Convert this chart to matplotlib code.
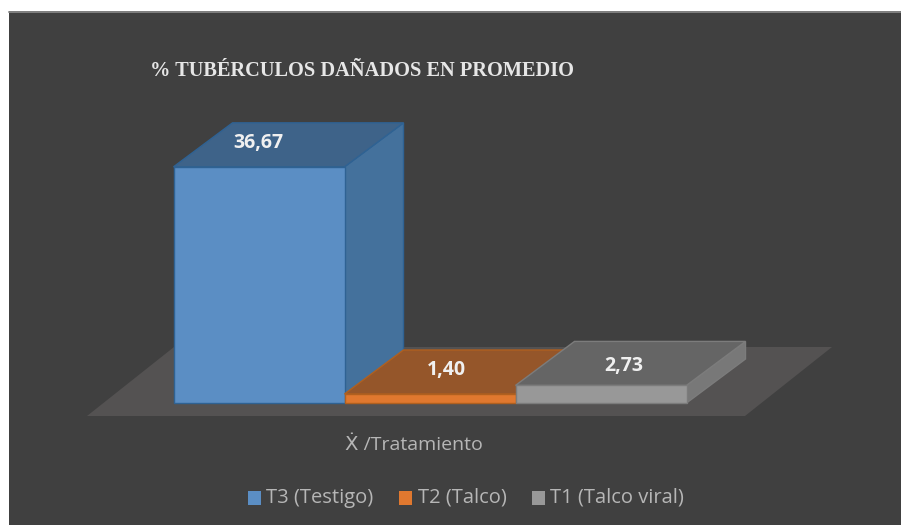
import matplotlib

matplotlib.use("Agg")
import matplotlib.pyplot as plt
from matplotlib.patches import Polygon, Rectangle

# data
labels = ["T3 (Testigo)", "T2 (Talco)", "T1 (Talco viral)"]
values = [36.67, 1.40, 2.73]
value_labels = ["36,67", "1,40", "2,73"]
title = "% TUBÉRCULOS DAÑADOS EN PROMEDIO"
xlabel = "Ẋ /Tratamiento"

# colours per bar: front, top, side, edge
front_colors = ["#5b8ec4", "#e0782f", "#989898"]
top_colors = ["#3e6389", "#95562a", "#656565"]
side_colors = ["#44719c", "#a35c28", "#787878"]
edge_colors = ["#2f6293", "#b0601f", "#7c7c7c"]

BG = "#404040"
FLOOR = "#545252"
TEXT = "#b6b6b6"
SANS = ["Open Sans", "DejaVu Sans"]

# layout in image pixels
BASE_Y = 403
BAR_LEFT = 173.5
BAR_WIDTH = 171
DEPTH_X = 59
DEPTH_Y = 44
PX_PER_UNIT = 6.44
# where each value label sits, relative to the bar's front top left corner
label_dx = [85, 102, 108]
label_dy = [-24, -24, -19]
legend_x = [248, 399, 532]

fig = plt.figure(figsize=(9.01, 5.25), dpi=100, facecolor="white")
ax = fig.add_axes([0, 0, 1, 1])
ax.set_xlim(0, 901)
ax.set_ylim(525, 0)
ax.axis("off")

ax.add_patch(Rectangle((9, 11), 892, 514, facecolor=BG, edgecolor="none", zorder=0))
ax.plot([9, 901], [11.5, 11.5], color="#8c8c8c", linewidth=1.2, zorder=1)

# floor of the 3d chart
floor = [(87, 416), (745, 416), (832, 347), (174, 347)]
ax.add_patch(Polygon(floor, closed=True, facecolor=FLOOR, edgecolor="none", zorder=1))

for i, value in enumerate(values):
    x0 = BAR_LEFT + i * BAR_WIDTH
    x1 = x0 + BAR_WIDTH
    top = BASE_Y - value * PX_PER_UNIT
    z = 2 + i
    style = dict(closed=True, edgecolor=edge_colors[i], linewidth=1.0, zorder=z)
    ax.add_patch(
        Polygon(
            [(x1, BASE_Y), (x1 + DEPTH_X, BASE_Y - DEPTH_Y), (x1 + DEPTH_X, top - DEPTH_Y), (x1, top)],
            facecolor=side_colors[i],
            **style,
        )
    )
    ax.add_patch(
        Polygon(
            [(x0, top), (x1, top), (x1 + DEPTH_X, top - DEPTH_Y), (x0 + DEPTH_X, top - DEPTH_Y)],
            facecolor=top_colors[i],
            **style,
        )
    )
    ax.add_patch(
        Polygon(
            [(x0, BASE_Y), (x1, BASE_Y), (x1, top), (x0, top)],
            facecolor=front_colors[i],
            **style,
        )
    )
    ax.text(
        x0 + label_dx[i],
        top + label_dy[i],
        value_labels[i],
        color="#f0f0f0",
        fontsize=14,
        fontweight="bold",
        family=SANS,
        ha="center",
        va="center",
        zorder=10,
    )

ax.text(
    150,
    71,
    title,
    color="#e6e6e6",
    fontsize=14.7,
    fontweight="bold",
    family="Liberation Serif",
    ha="left",
    va="center",
    zorder=10,
)
ax.text(414, 445, xlabel, color=TEXT, fontsize=14, family=SANS, ha="center", va="center", zorder=10)

# legend
for i, label in enumerate(labels):
    ax.add_patch(Rectangle((legend_x[i], 491), 13, 14, facecolor=front_colors[i], edgecolor="none", zorder=10))
    ax.text(
        legend_x[i] + 18.5,
        498,
        label,
        color=TEXT,
        fontsize=14.5,
        family=SANS,
        ha="left",
        va="center",
        zorder=10,
    )

fig.savefig("out.png", dpi=100, facecolor=fig.get_facecolor())
plt.close(fig)
